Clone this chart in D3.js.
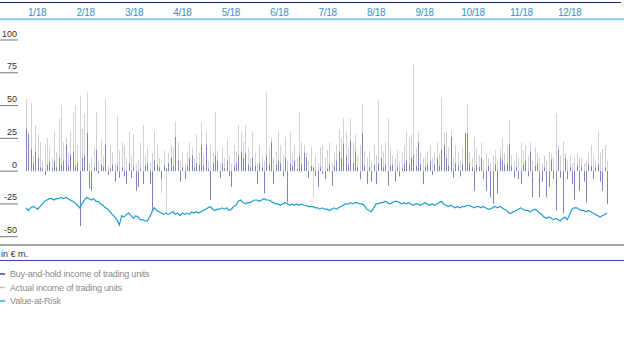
<!DOCTYPE html>
<html>
<head>
<meta charset="utf-8">
<script src="https://cdn.jsdelivr.net/npm/d3@7"></script>
<style>
  body { margin: 0; background: #fff; }
  text { font-family: "Liberation Sans", Arial, sans-serif; }
</style>
</head>
<body>
<script>
var months = ["1/18", "2/18", "3/18", "4/18", "5/18", "6/18", "7/18", "8/18", "9/18", "10/18", "11/18", "12/18"];
var yTicks = [100, 75, 50, 25, 0, -25, -50];
var legendLabels = ["Buy-and-hold income of trading units", "Actual income of trading units", "Value-at-Risk"];

// actual income of trading units, one value per trading day
var actualIncome = [
  55, 30, 52, 12, 35, 28, 22, 8, 20, 25, 18, 10, 30, 15, 40, 50, 22, 25, 14, 30, 45, 50, 20, 57, 32,
  44, 60, 6, 10, 18, 45, 8, 24, 12, 55, 4, 20, 14, 6, 42, 16, 22, 20, 10, 30, 12, 28, 5, 8, 22,
  35, 12, 18, 6, 14, 31, 20, 10, -17, 16, -32, 14, 20, 18, 38, 22, 8, 15, 6, 15, 22, 18, 10, 28, 14,
  37, 12, 30, 8, 20, 14, 45, 15, 6, 18, 10, 24, 12, 6, 20, 15, 35, 30, 22, 35, 18, 10, 30, 14, 6,
  20, 12, 8, 60, 18, 25, 10, 15, 30, 20, 12, 26, 8, 30, 14, 20, 10, 45, 22, 20, 14, 8, 18, -20, 12,
  6, 18, 20, 10, 16, 22, 6, 14, 20, 32, 25, 40, 30, 18, 40, 22, 28, 12, 20, 51, 15, 10, 15, 8, 20,
  12, 54, 20, 15, 22, 40, 18, 12, 10, 16, 8, 14, 20, 30, 26, 28, 81, 18, 30, 14, 10, 12, 15, 20, 10,
  15, 22, 14, 56, 30, 30, 18, 31, 10, 20, 14, 8, 18, 22, 51, 15, 10, 26, 18, 12, 22, 8, 14, 10, 6,
  12, 16, 8, 17, 25, 14, 20, 39, 12, 8, 14, 10, 22, 16, 20, 12, 22, 8, 18, 14, 10, 6, 12, 8, 15,
  13, 10, 44, 20, 12, 23, 14, 8, 12, 6, 10, 14, 10, 10, 6, 8, 14, 20, 12, 8, 30, 14, 17, 20, 8
];

// buy-and-hold income of trading units
var buyHoldIncome = [
  32, 28, 17, 6, 15, 10, 3, 2, -3, 5, 7, 2, 8, 3, 10, 5, 8, 20, 4, 12, 15, 4, 6, -42, 10,
  12, 29, -13, -15, 3, 16, -2, 5, 3, 20, -3, 2, 5, -8, 4, -5, 3, -4, -10, 6, -5, 3, -15, -12, 2,
  -10, 4, 6, -10, -30, 8, 5, 3, -6, 4, 2, 6, 10, 4, 26, 8, -8, 3, -6, 4, 10, 12, 3, 6, 5,
  20, 4, 20, 2, -22, 6, 12, 8, -5, 6, 2, 8, -4, -12, 4, 6, 12, 15, 10, 14, 5, 3, 10, 4, -10,
  6, 3, -17, 12, 5, 22, -10, 5, 8, 6, -4, 10, -24, 6, 4, 8, 2, 12, 5, 14, 10, -5, 4, 3, -4,
  -12, 3, -2, -6, 2, 5, -11, 4, 8, 15, 10, 21, 12, 5, 23, 6, 15, 3, -6, 29, 4, -10, 3, -8, 5,
  -10, 6, 10, 3, 5, -11, 4, 5, -8, 3, -4, 2, 6, 8, 5, 10, 12, 4, 22, 5, -10, 3, 5, 8, -3,
  5, 10, 4, 16, 20, 10, 4, 26, -5, 6, 4, -4, 5, 29, 29, 6, 3, -15, 5, 3, 10, -6, -15, 4, -20,
  -25, 5, -17, 10, 8, 5, 6, 21, 4, -5, 3, -6, -10, 5, 8, -4, 15, -20, 4, 6, -20, -8, 3, -20, -12,
  9, -6, -30, 16, -5, -32, 10, -6, 3, -10, -22, 4, -15, 3, -8, -24, 5, 4, -6, 3, 5, -8, -15, 3, -25
];

// value-at-risk
var valueAtRisk = [
  -28, -30, -28, -27, -28, -29, -27, -25, -23, -22, -21, -21, -22, -21, -21, -20, -21, -20, -21, -22, -23, -24, -26, -28, -25,
  -22, -20, -21, -22, -21, -23, -23, -25, -26, -28, -29, -31, -33, -35, -37, -41, -34, -35, -33, -32, -34, -36, -34, -35, -37,
  -37, -38, -38, -35, -31, -28, -30, -31, -32, -33, -32, -33, -32, -31, -33, -32, -34, -32, -33, -32, -33, -31, -32, -31, -32,
  -31, -30, -29, -28, -27, -29, -30, -29, -29, -28, -29, -28, -30, -29, -27, -26, -23, -22, -24, -25, -24, -24, -23, -22, -22,
  -23, -22, -21, -22, -22, -23, -24, -25, -25, -26, -25, -24, -25, -26, -25, -26, -25, -26, -25, -26, -26, -27, -27, -27, -28,
  -28, -29, -28, -29, -29, -30, -29, -28, -29, -28, -27, -26, -25, -25, -24, -25, -24, -24, -25, -25, -26, -29, -30, -31, -28,
  -25, -25, -24, -24, -23, -24, -25, -24, -23, -23, -24, -25, -24, -25, -24, -25, -26, -25, -25, -26, -25, -24, -25, -26, -25,
  -26, -25, -24, -23, -25, -26, -27, -26, -27, -28, -27, -28, -27, -27, -26, -26, -27, -28, -27, -27, -28, -27, -28, -29, -29,
  -28, -27, -28, -27, -28, -29, -30, -32, -32, -31, -30, -29, -28, -29, -30, -30, -31, -30, -29, -30, -32, -33, -35, -36, -35,
  -36, -37, -36, -37, -38, -36, -35, -37, -33, -29, -28, -28, -29, -30, -30, -31, -30, -31, -32, -33, -34, -35, -34, -33, -32
];

var svg = d3.select("body").append("svg")
    .attr("width", 624)
    .attr("height", 342);

svg.append("rect").attr("width", 624).attr("height", 342).attr("fill", "#fff");

var x = d3.scaleLinear()
    .domain([0, actualIncome.length - 1])
    .range([26, 607]);

var xMonth = d3.scaleBand()
    .domain(months)
    .range([13, 594]);

var y = d3.scaleLinear()
    .domain([-50, 100])
    .range([236.7, 40]);

// top header lines
svg.append("line")
    .attr("x1", 0).attr("x2", 621)
    .attr("y1", 2.5).attr("y2", 2.5)
    .attr("stroke", "#1d2270")
    .attr("stroke-width", 1.2);

svg.append("g").selectAll("text")
    .data(months)
    .enter().append("text")
      .attr("x", function(d) { return xMonth(d) + xMonth.bandwidth() / 2; })
      .attr("y", 15.5)
      .attr("text-anchor", "middle")
      .attr("fill", "#3b92c4")
      .style("font-size", "10px")
      .style("letter-spacing", "-0.3px")
      .text(function(d) { return d; });

svg.append("line")
    .attr("x1", 0).attr("x2", 624)
    .attr("y1", 19.2).attr("y2", 19.2)
    .attr("stroke", "#86cbe8")
    .attr("stroke-width", 2);

// y ticks: label above a short rule
var tick = svg.append("g").selectAll("g")
    .data(yTicks)
    .enter().append("g")
      .attr("transform", function(d) { return "translate(0," + y(d) + ")"; });

tick.append("line")
    .attr("x1", 0).attr("x2", 18)
    .attr("stroke", "#777")
    .attr("stroke-width", 1);

tick.append("text")
    .attr("x", 17)
    .attr("y", -3.5)
    .attr("text-anchor", "end")
    .attr("fill", "#333")
    .style("font-size", "9px")
    .text(function(d) { return d; });

// bars
svg.append("g").selectAll("rect")
    .data(actualIncome)
    .enter().append("rect")
      .attr("x", function(d, i) { return Math.round(x(i)); })
      .attr("y", function(d) { return y(Math.max(0, d)); })
      .attr("width", 1)
      .attr("height", function(d) { return Math.abs(y(d) - y(0)); })
      .attr("fill", "#d2d2d8");

svg.append("g").selectAll("rect")
    .data(buyHoldIncome)
    .enter().append("rect")
      .attr("x", function(d, i) { return Math.round(x(i)); })
      .attr("y", function(d) { return y(Math.max(0, d)); })
      .attr("width", 1)
      .attr("height", function(d) { return Math.abs(y(d) - y(0)); })
      .attr("fill", "#8085c2");

var line = d3.line()
    .x(function(d, i) { return x(i); })
    .y(function(d) { return y(d); });

svg.append("path")
    .datum(valueAtRisk)
    .attr("d", line)
    .attr("fill", "none")
    .attr("stroke", "#1e9dd3")
    .attr("stroke-width", 1.2);

// footer
svg.append("line")
    .attr("x1", 0).attr("x2", 624)
    .attr("y1", 245).attr("y2", 245)
    .attr("stroke", "#a6a6a6")
    .attr("stroke-width", 2);

svg.append("text")
    .attr("x", 1)
    .attr("y", 256.5)
    .attr("fill", "#333")
    .style("font-size", "9px")
    .text("in € m.");

svg.append("line")
    .attr("x1", 0).attr("x2", 624)
    .attr("y1", 260.5).attr("y2", 260.5)
    .attr("stroke", "#3a48a0")
    .attr("stroke-width", 1);

var legendColors = ["#2d4b9e", "#c4c4c8", "#3aa8d2"];

var legend = svg.append("g").selectAll("g")
    .data(legendLabels)
    .enter().append("g")
      .attr("transform", function(d, i) { return "translate(0," + (274 + i * 13.5) + ")"; });

legend.append("line")
    .attr("x1", 0).attr("x2", 5)
    .attr("stroke", function(d, i) { return legendColors[i]; })
    .attr("stroke-width", 1.5);

legend.append("text")
    .attr("x", 10)
    .attr("y", 3)
    .attr("fill", "#8a8a8a")
    .style("font-size", "9px")
    .style("letter-spacing", "-0.2px")
    .text(function(d) { return d; });
</script>
</body>
</html>
